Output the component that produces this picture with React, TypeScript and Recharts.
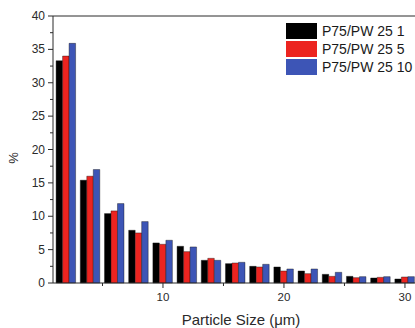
import { Bar, BarChart, Legend, ReferenceLine, XAxis, YAxis } from "recharts";

const sizes = [2, 4, 6, 8, 10, 12, 14, 16, 18, 20, 22, 24, 26, 28, 30];
const pw1 = [33.3, 15.4, 10.4, 7.9, 6.0, 5.5, 3.4, 2.9, 2.5, 2.4, 1.8, 1.3, 1.0, 0.75, 0.6];
const pw5 = [34.0, 16.0, 10.8, 7.5, 5.8, 4.7, 3.7, 3.0, 2.4, 1.8, 1.4, 1.0, 0.8, 0.85, 0.9];
const pw10 = [35.9, 17.0, 11.9, 9.2, 6.4, 5.4, 3.4, 3.1, 2.8, 2.1, 2.1, 1.6, 0.95, 0.95, 0.95];

const seriesNames = ["P75/PW 25 1", "P75/PW 25 5", "P75/PW 25 10"];
const colors = ["#000000", "#ec2420", "#3d55b6"];

const yTicks = [0, 2.5, 5, 7.5, 10, 12.5, 15, 17.5, 20, 22.5, 25, 27.5, 30, 32.5, 35, 37.5, 40];
const xTicks = [5, 10, 15, 20, 25, 30];

const data = sizes.map((size, i) => ({ size, pw1: pw1[i], pw5: pw5[i], pw10: pw10[i] }));

const font = "'Liberation Sans', Arial, sans-serif";
const ink = "#2a2a2a";

function YTick({ x, y, payload }: any) {
  const major = payload.value % 5 === 0;
  return (
    <g>
      <line x1={x} x2={x - (major ? 5 : 3)} y1={y} y2={y} stroke={ink} strokeWidth={1} />
      {major && (
        <text x={x - 8} y={y} dy={4} textAnchor="end" fontSize={12} fill={ink} fontFamily={font}>
          {payload.value}
        </text>
      )}
    </g>
  );
}

function XTick({ x, y, payload }: any) {
  const major = payload.value % 10 === 0;
  return (
    <g>
      <line x1={x} x2={x} y1={y} y2={y + (major ? 5 : 3)} stroke={ink} strokeWidth={1} />
      {major && (
        <text x={x} y={y + 18} textAnchor="middle" fontSize={11.5} fill={ink} fontFamily={font}>
          {payload.value}
        </text>
      )}
    </g>
  );
}

function LegendBox() {
  return (
    <div style={{ fontFamily: font, fontSize: 14, color: "#1a1a1a" }}>
      {seriesNames.map((name, i) => (
        <div key={name} style={{ display: "flex", alignItems: "center", height: 18 }}>
          <div style={{ width: 31, height: 16, background: colors[i], marginRight: 5 }} />
          <span>{name}</span>
        </div>
      ))}
    </div>
  );
}

export default function App() {
  return (
    <div style={{ width: 415, height: 328, background: "#fff" }}>
      <style>{"body{margin:0}"}</style>
      <BarChart
        width={415}
        height={328}
        data={data}
        margin={{ top: 16, right: 0, bottom: 0, left: 0 }}
        barGap={0}
        barSize={6.5}
      >
        <XAxis
          dataKey="size"
          type="number"
          domain={[0.91, 30.83]}
          allowDataOverflow
          ticks={xTicks}
          interval={0}
          height={45}
          tickLine={false}
          tickSize={0}
          tickMargin={0}
          tick={<XTick />}
          axisLine={{ stroke: ink }}
          label={() => (
            <text x={241} y={325} textAnchor="middle" fontSize={15} fill={ink} fontFamily={font}>
              Particle Size (μm)
            </text>
          )}
        />
        <YAxis
          type="number"
          domain={[0, 40]}
          ticks={yTicks}
          interval={0}
          width={53}
          tickLine={false}
          tickSize={0}
          tickMargin={0}
          tick={<YTick />}
          axisLine={{ stroke: ink }}
          label={() => (
            <text x={18} y={158} transform="rotate(-90 18 158)" textAnchor="middle" fontSize={13} fill={ink} fontFamily={font}>
              %
            </text>
          )}
        />
        <ReferenceLine y={40} stroke={ink} />
        <Legend
          layout="vertical"
          align="center"
          verticalAlign="middle"
          content={() => <LegendBox />}
          wrapperStyle={{ position: "absolute", top: 22, left: 286, width: 130 }}
        />
        <Bar dataKey="pw1" name={seriesNames[0]} fill={colors[0]} stroke="#111" strokeWidth={0.4} isAnimationActive={false} />
        <Bar dataKey="pw5" name={seriesNames[1]} fill={colors[1]} stroke="#111" strokeWidth={0.4} isAnimationActive={false} />
        <Bar dataKey="pw10" name={seriesNames[2]} fill={colors[2]} stroke="#111" strokeWidth={0.4} isAnimationActive={false} />
      </BarChart>
    </div>
  );
}
